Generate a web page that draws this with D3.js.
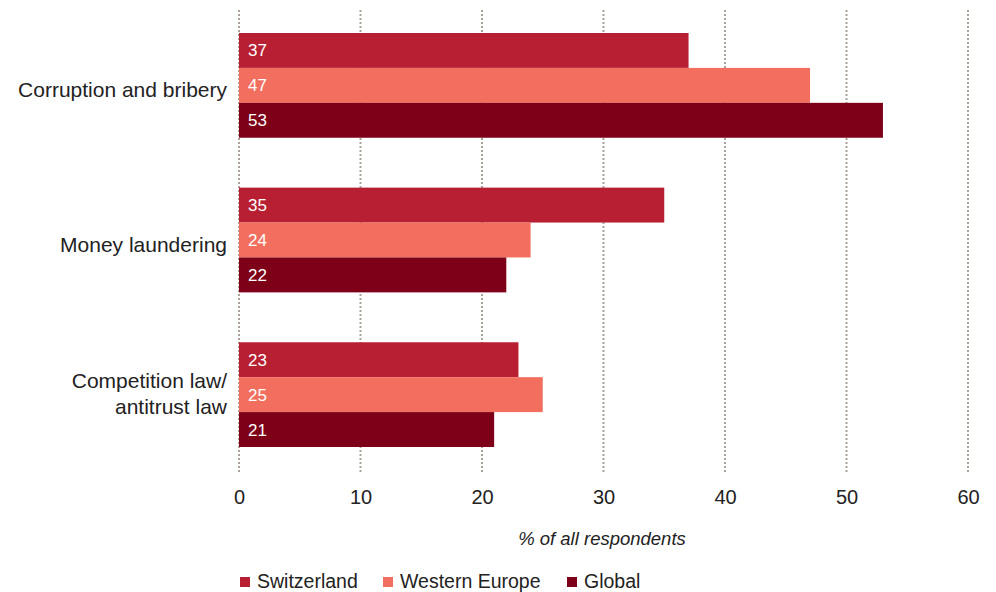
<!DOCTYPE html>
<html>
<head>
<meta charset="utf-8">
<script src="https://cdn.jsdelivr.net/npm/d3@7"></script>
<style>
  body { margin: 0; background: #fff; }
  svg { font-family: "Liberation Sans", Arial, Helvetica, sans-serif; display: block; }
</style>
</head>
<body>
<svg width="996" height="592"></svg>
<script>
var categories = ["Corruption and bribery", "Money laundering", "Competition law/\nantitrust law"];
var seriesNames = ["Switzerland", "Western Europe", "Global"];
var switzerland = [37, 35, 23];
var westernEurope = [47, 24, 25];
var global = [53, 22, 21];
var ticks = [0, 10, 20, 30, 40, 50, 60];
var colors = ["#b81f33", "#f26f5f", "#7d0018"];

var svg = d3.select("svg");

var values = [switzerland, westernEurope, global];

var x = d3.scaleLinear().domain([0, 60]).range([239, 968]);

var y = d3.scaleBand()
  .domain(categories)
  .range([33, 447])
  .paddingInner(50 / 155)
  .paddingOuter(0);

var ySub = d3.scaleBand()
  .domain(seriesNames)
  .range([0, y.bandwidth()]);

// dotted grid lines
svg.append("g")
  .selectAll("line")
  .data(ticks)
  .enter().append("line")
  .attr("x1", function(d) { return x(d); })
  .attr("x2", function(d) { return x(d); })
  .attr("y1", 10)
  .attr("y2", 474)
  .attr("stroke", "#aaa199")
  .attr("stroke-width", 2)
  .attr("stroke-dasharray", "2,2");

// bars
var groups = svg.append("g")
  .selectAll("g")
  .data(categories)
  .enter().append("g")
  .attr("transform", function(d) { return "translate(0," + y(d) + ")"; });

groups.selectAll("rect")
  .data(function(d, i) {
    return seriesNames.map(function(s, j) { return { s: s, v: values[j][i], j: j }; });
  })
  .enter().append("rect")
  .attr("x", x(0))
  .attr("y", function(d) { return ySub(d.s); })
  .attr("width", function(d) { return x(d.v) - x(0); })
  .attr("height", ySub.bandwidth())
  .attr("fill", function(d) { return colors[d.j]; });

groups.selectAll("text.val")
  .data(function(d, i) {
    return seriesNames.map(function(s, j) { return { s: s, v: values[j][i] }; });
  })
  .enter().append("text")
  .attr("class", "val")
  .attr("x", x(0) + 9)
  .attr("y", function(d) { return ySub(d.s) + ySub.bandwidth() / 2 + 6; })
  .attr("fill", "#fff")
  .attr("font-size", 17)
  .text(function(d) { return d.v; });

// category labels
svg.append("g")
  .selectAll("text")
  .data(categories)
  .enter().append("text")
  .attr("text-anchor", "end")
  .attr("font-size", 21)
  .attr("fill", "#222")
  .each(function(d) {
    var lines = d.split("\n");
    var cy = y(d) + y.bandwidth() / 2;
    var t = d3.select(this);
    lines.forEach(function(l, k) {
      t.append("tspan")
        .attr("x", 227)
        .attr("y", lines.length > 1 ? cy - 7 + k * 26 : cy + 12)
        .text(l);
    });
  });

// x axis
var xAxis = svg.append("g")
  .attr("transform", "translate(0,490)")
  .call(d3.axisBottom(x).tickValues(ticks).tickSize(0).tickPadding(0));
xAxis.select(".domain").remove();
xAxis.selectAll("text")
  .attr("font-size", 20)
  .attr("fill", "#222")
  .attr("font-family", "Liberation Sans, Arial, sans-serif");

svg.append("text")
  .attr("x", 602)
  .attr("y", 545)
  .attr("text-anchor", "middle")
  .attr("font-size", 18.5)
  .attr("font-style", "italic")
  .attr("fill", "#222")
  .text("% of all respondents");

// legend
var legendX = [240, 383, 567];
var legend = svg.append("g")
  .selectAll("g")
  .data(seriesNames)
  .enter().append("g")
  .attr("transform", function(d, i) { return "translate(" + legendX[i] + ",577)"; });
legend.append("rect")
  .attr("width", 10).attr("height", 10)
  .attr("fill", function(d, i) { return colors[i]; });
legend.append("text")
  .attr("x", 17).attr("y", 11)
  .attr("font-size", 19.5)
  .attr("fill", "#222")
  .text(function(d) { return d; });
</script>
</body>
</html>
